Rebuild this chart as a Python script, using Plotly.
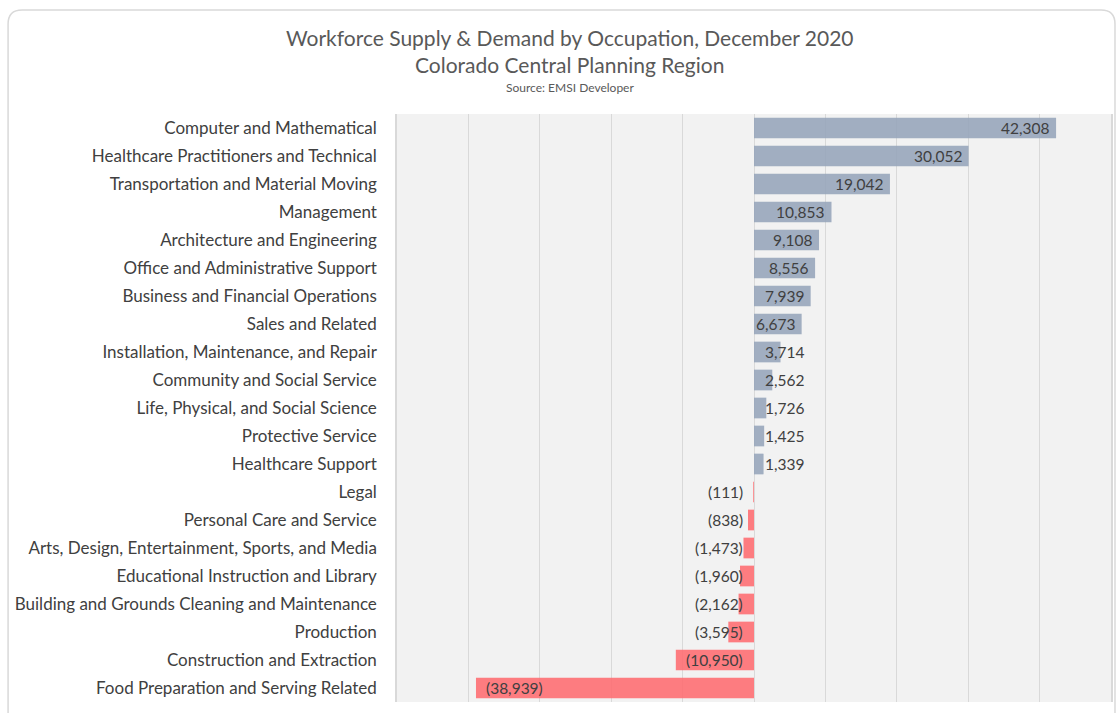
import plotly.graph_objects as go

categories = [
    "Computer and Mathematical",
    "Healthcare Practitioners and Technical",
    "Transportation and Material Moving",
    "Management",
    "Architecture and Engineering",
    "Office and Administrative Support",
    "Business and Financial Operations",
    "Sales and Related",
    "Installation, Maintenance, and Repair",
    "Community and Social Service",
    "Life, Physical, and Social Science",
    "Protective Service",
    "Healthcare Support",
    "Legal",
    "Personal Care and Service",
    "Arts, Design, Entertainment, Sports, and Media",
    "Educational Instruction and Library",
    "Building and Grounds Cleaning and Maintenance",
    "Production",
    "Construction and Extraction",
    "Food Preparation and Serving Related",
]
values = [42308, 30052, 19042, 10853, 9108, 8556, 7939, 6673, 3714, 2562,
          1726, 1425, 1339, -111, -838, -1473, -1960, -2162, -3595, -10950, -38939]

POS_COLOR = "rgba(147,162,184,0.85)"
NEG_COLOR = "rgba(255,103,108,0.85)"
FONT = "Lato"
TXT = "#404040"

W, H = 1120, 713
L, R, T, B = 397, 7, 114, 11
PW, PH = W - L - R, H - T - B


def px(x):
    return (x - L) / PW


def py(y):
    return (H - B - y) / PH


def fmt(v):
    s = f"{abs(v):,}"
    return f"({s})" if v < 0 else s


colors = [POS_COLOR if v >= 0 else NEG_COLOR for v in values]

fig = go.Figure()
fig.add_trace(go.Bar(
    y=categories, x=values, orientation="h",
    marker=dict(color=colors, line=dict(width=0)),
    width=0.74, hoverinfo="skip",
))

annotations = []
for c, v in zip(categories, values):
    if v >= 0:
        if v >= 5000:
            a = dict(x=v, xanchor="right", xshift=-5)
        else:
            a = dict(x=0, xanchor="left", xshift=9)
    else:
        if v <= -20000:
            a = dict(x=v, xanchor="left", xshift=8)
        else:
            a = dict(x=0, xanchor="right", xshift=-9)
    a.update(y=c, xref="x", yref="y", text=fmt(v), showarrow=False,
             font=dict(family=FONT, size=15.5, color=TXT), yanchor="middle")
    annotations.append(a)

# titles
annotations += [
    dict(x=px(570), y=py(37), xref="paper", yref="paper", showarrow=False,
         text="Workforce Supply & Demand by Occupation, December 2020",
         font=dict(family=FONT, size=21, color="#595959"), xanchor="center", yanchor="middle"),
    dict(x=px(570), y=py(64), xref="paper", yref="paper", showarrow=False,
         text="Colorado Central Planning Region",
         font=dict(family=FONT, size=21, color="#595959"), xanchor="center", yanchor="middle"),
    dict(x=px(570), y=py(87), xref="paper", yref="paper", showarrow=False,
         text="Source: EMSI Developer",
         font=dict(family=FONT, size=12, color="#595959"), xanchor="center", yanchor="middle"),
]

# rounded chart border
x0, y0, x1, y1, r = 7, 10, 1117, 725, 14
path = (f"M {px(x0)},{py(y0 + r)} "
        f"Q {px(x0)},{py(y0)} {px(x0 + r)},{py(y0)} "
        f"L {px(x1 - r)},{py(y0)} "
        f"Q {px(x1)},{py(y0)} {px(x1)},{py(y0 + r)} "
        f"L {px(x1)},{py(y1)} L {px(x0)},{py(y1)} Z")
shapes = [dict(type="path", path=path, xref="paper", yref="paper",
               line=dict(color="#d9d9d9", width=1.5), fillcolor="rgba(0,0,0,0)", layer="below")]

fig.update_layout(
    width=W, height=H,
    margin=dict(l=L, r=R, t=T, b=B, pad=0),
    paper_bgcolor="white", plot_bgcolor="#f2f2f2",
    showlegend=False, bargap=0.26,
    annotations=annotations, shapes=shapes,
    font=dict(family=FONT, color=TXT),
    xaxis=dict(range=[-50000, 50000], dtick=10000, tick0=0, showgrid=True,
               gridcolor="#d9d9d9", gridwidth=1, zeroline=True, zerolinecolor="#d9d9d9",
               zerolinewidth=1, showticklabels=False, ticks="", fixedrange=True),
    yaxis=dict(categoryorder="array", categoryarray=categories, autorange="reversed",
               showgrid=False, ticks="", ticklabelstandoff=15,
               tickfont=dict(family=FONT, size=17, color=TXT),
               showline=True, mirror=True, linecolor="#d9d9d9", linewidth=1.5,
               fixedrange=True),
)

fig.write_html(
    "out.html",
    config={"displayModeBar": False},
    post_script="document.body.style.margin='0';document.body.style.overflow='hidden';",
)
